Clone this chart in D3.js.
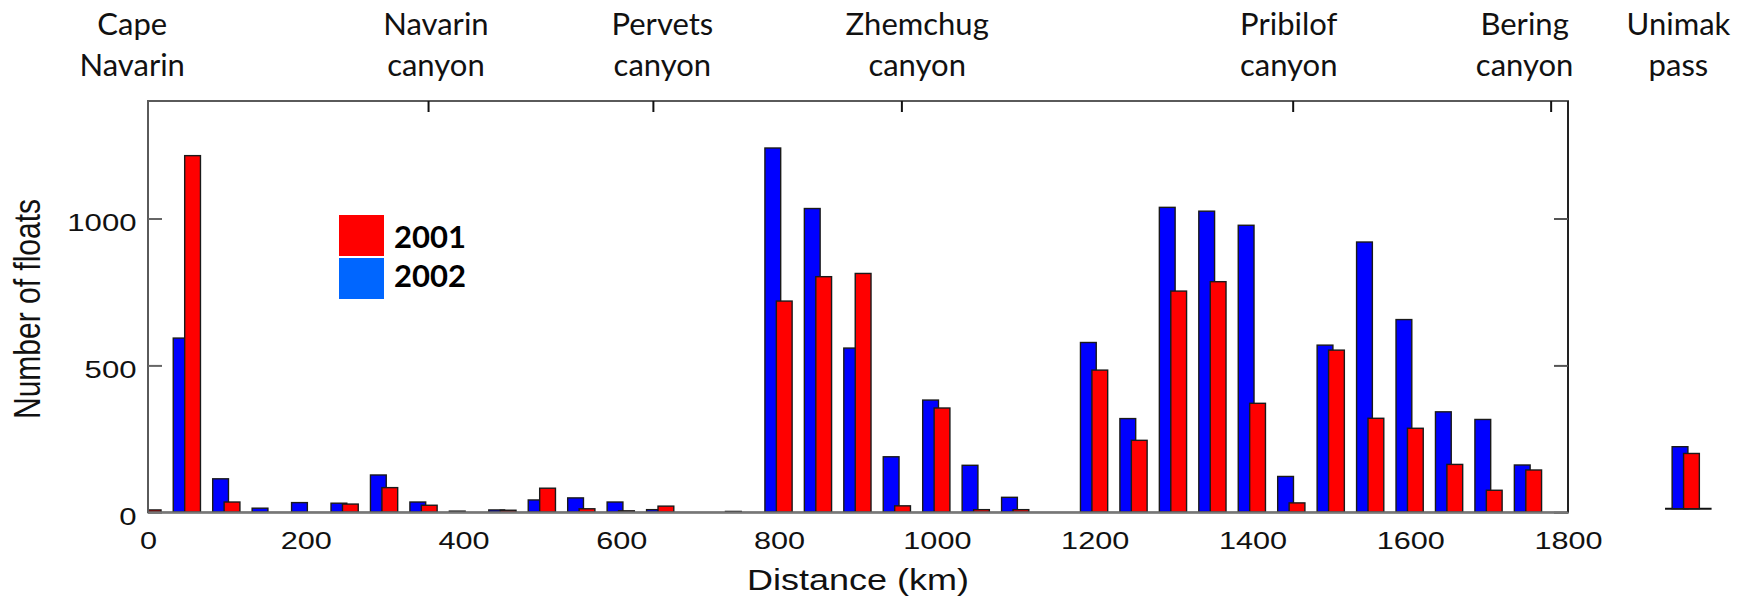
<!DOCTYPE html>
<html>
<head>
<meta charset="utf-8">
<script src="https://cdn.jsdelivr.net/npm/d3@7"></script>
<style>
  body { margin: 0; background: #fff; }
  svg { display: block; }
  .tick text { font-family: "Liberation Sans", Arial, sans-serif; font-size: 24.5px; fill: #111; }
  .place { font-family: Lato, "Open Sans", sans-serif; font-size: 31px; fill: #111; }
</style>
</head>
<body>
<svg id="chart" width="1761" height="598"></svg>
<script>
// distance along the slope (km), one bin every 50 km
const distances = [0, 50, 100, 150, 200, 250, 300, 350, 400, 450, 500, 550, 600, 650, 700, 750,
    800, 850, 900, 950, 1000, 1050, 1100, 1150, 1200, 1250, 1300, 1350, 1400, 1450, 1500, 1550,
    1600, 1650, 1700, 1750];
const floats2002 = [0, 593, 114, 14, 33, 31, 127, 35, 4, 8, 42, 49, 35, 9, 0, 3,
    1240, 1034, 559, 189, 382, 160, 51, 0, 578, 319, 1038, 1025, 977, 122, 569, 920,
    656, 342, 316, 161];
const floats2001 = [8, 1214, 35, 0, 0, 28, 84, 24, 0, 7, 82, 12, 5, 21, 0, 0,
    719, 802, 813, 22, 355, 9, 9, 0, 484, 245, 753, 785, 371, 32, 552, 320,
    286, 163, 75, 144];

// Unimak pass, drawn apart from the main axis
const unimakKm = 1950;
const unimak2002 = 211;
const unimak2001 = 188;

const xTicks = [0, 200, 400, 600, 800, 1000, 1200, 1400, 1600, 1800];
const yTicks = [0, 500, 1000];
const canyonTicksKm = [355, 640, 955, 1451, 1778];
const placeNames = [["Cape", "Navarin"], ["Navarin", "canyon"], ["Pervets", "canyon"],
    ["Zhemchug", "canyon"], ["Pribilof", "canyon"], ["Bering", "canyon"], ["Unimak", "pass"]];
const placeKm = [-20, 365, 652, 975, 1446, 1745, 1940];
const legendYears = ["2001", "2002"];
const legendColors = ["#ff0000", "#0066ff"];

const svg = d3.select("#chart");
const mLeft = 148, mRight = 1568, mTop = 101, mBottom = 512.3;

const x = d3.scaleLinear().domain([0, 1800]).range([mLeft, mRight]);
const y = d3.scaleLinear().domain([0, 1400]).range([mBottom, mTop]);
const yInset = y.copy().range([mBottom - 3.6, mTop - 3.6]);

const barW = 20, offBlue = -8, offRed = 6.5;

svg.append("defs").append("clipPath").attr("id", "plotclip")
    .append("rect").attr("x", mLeft).attr("y", mTop).attr("width", mRight - mLeft).attr("height", mBottom - mTop);

const rows = distances.map((d, i) => ({d: d, b: floats2002[i], r: floats2001[i]}));

const bars = svg.append("g").attr("clip-path", "url(#plotclip)");

function drawBars(g, data, key, off, color, ys) {
    g.selectAll("rect." + key)
        .data(data.filter(o => o[key] > 0))
        .enter().append("rect")
        .attr("class", key)
        .attr("x", o => x(o.d + off - barW / 2))
        .attr("width", o => x(o.d + off + barW / 2) - x(o.d + off - barW / 2))
        .attr("y", o => ys(o[key]))
        .attr("height", o => ys(0) - ys(o[key]))
        .attr("fill", color)
        .attr("stroke", "#1a1a1a")
        .attr("stroke-width", 1.4);
}
drawBars(bars, rows, "b", offBlue, "#0000ff", y);
drawBars(bars, rows, "r", offRed, "#ff0000", y);

// frame
svg.append("rect").attr("x", mLeft).attr("y", mTop).attr("width", mRight - mLeft).attr("height", mBottom - mTop)
    .attr("fill", "none").attr("stroke", "#5a5a5a").attr("stroke-width", 2);
svg.append("line").attr("x1", mRight).attr("x2", mRight).attr("y1", mTop).attr("y2", mBottom)
    .attr("stroke", "#222").attr("stroke-width", 2);

// y axis, inward ticks
const yAxis = svg.append("g").attr("transform", `translate(${mLeft},0)`)
    .call(d3.axisLeft(y).tickValues(yTicks).tickSize(-14).tickPadding(0).tickFormat(d3.format("d")));
yAxis.select(".domain").remove();
yAxis.selectAll(".tick line").attr("stroke", "#666").attr("stroke-width", 2);
yAxis.selectAll(".tick text")
    .attr("transform", "scale(1.27,1)")
    .attr("x", -11.5 / 1.27)
    .attr("dy", "0.48em");

const yAxisR = svg.append("g").attr("transform", `translate(${mRight},0)`)
    .call(d3.axisRight(y).tickValues(yTicks).tickSize(-14).tickFormat(""));
yAxisR.select(".domain").remove();
yAxisR.selectAll(".tick line").attr("stroke", "#555").attr("stroke-width", 2);

// canyon markers on the top edge
const topAxis = svg.append("g").attr("transform", `translate(0,${mTop})`)
    .call(d3.axisTop(x).tickValues(canyonTicksKm).tickSize(-11).tickFormat(""));
topAxis.select(".domain").remove();
topAxis.selectAll(".tick line").attr("stroke", "#111").attr("stroke-width", 2);

// x axis
const xAxis = svg.append("g").attr("transform", `translate(0,${mBottom})`)
    .call(d3.axisBottom(x).tickValues(xTicks).tickSize(0).tickPadding(19.5).tickFormat(d3.format("d")));
xAxis.select(".domain").attr("stroke", "#777").attr("stroke-width", 2);
xAxis.selectAll(".tick text").attr("transform", "scale(1.25,1)");

// Unimak pass inset
const inset = svg.append("g");
inset.append("line")
    .attr("x1", x(unimakKm - 27)).attr("x2", x(unimakKm + 32))
    .attr("y1", yInset(0)).attr("y2", yInset(0))
    .attr("stroke", "#111").attr("stroke-width", 2);
const insetRow = [{d: unimakKm, b: unimak2002, r: unimak2001}];
drawBars(inset, insetRow, "b", offBlue, "#0000ff", yInset);
drawBars(inset, insetRow, "r", offRed, "#ff0000", yInset);

// axis titles
svg.append("text")
    .attr("transform", `translate(${(mLeft + mRight) / 2},590) scale(1.2,1)`)
    .attr("text-anchor", "middle")
    .style("font-family", "'Liberation Sans', Arial, sans-serif")
    .style("font-size", "30px")
    .attr("fill", "#111")
    .text("Distance (km)");

svg.append("text")
    .attr("transform", "translate(40,309) scale(1.25,1) rotate(-90)")
    .attr("text-anchor", "middle")
    .style("font-family", "'Liberation Sans', Arial, sans-serif")
    .style("font-size", "30px")
    .attr("fill", "#111")
    .text("Number of floats");

// place names above the plot
const places = svg.append("g");
placeNames.forEach((lines, i) => {
    const t = places.append("text").attr("class", "place").attr("text-anchor", "middle");
    lines.forEach((s, j) => {
        t.append("tspan").attr("x", x(placeKm[i])).attr("y", 35 + j * 41).text(s);
    });
});

// legend
const legend = svg.append("g").attr("transform", "translate(339,215)");
legendYears.forEach((yr, i) => {
    legend.append("rect").attr("x", 0).attr("y", i * 43).attr("width", 45).attr("height", 41)
        .attr("fill", legendColors[i]);
    legend.append("text").attr("x", 55).attr("y", 33 + i * 39)
        .style("font-family", "Lato, 'Open Sans', sans-serif")
        .style("font-weight", "bold")
        .style("font-size", "31px")
        .attr("fill", "#000")
        .text(yr);
});
</script>
</body>
</html>
